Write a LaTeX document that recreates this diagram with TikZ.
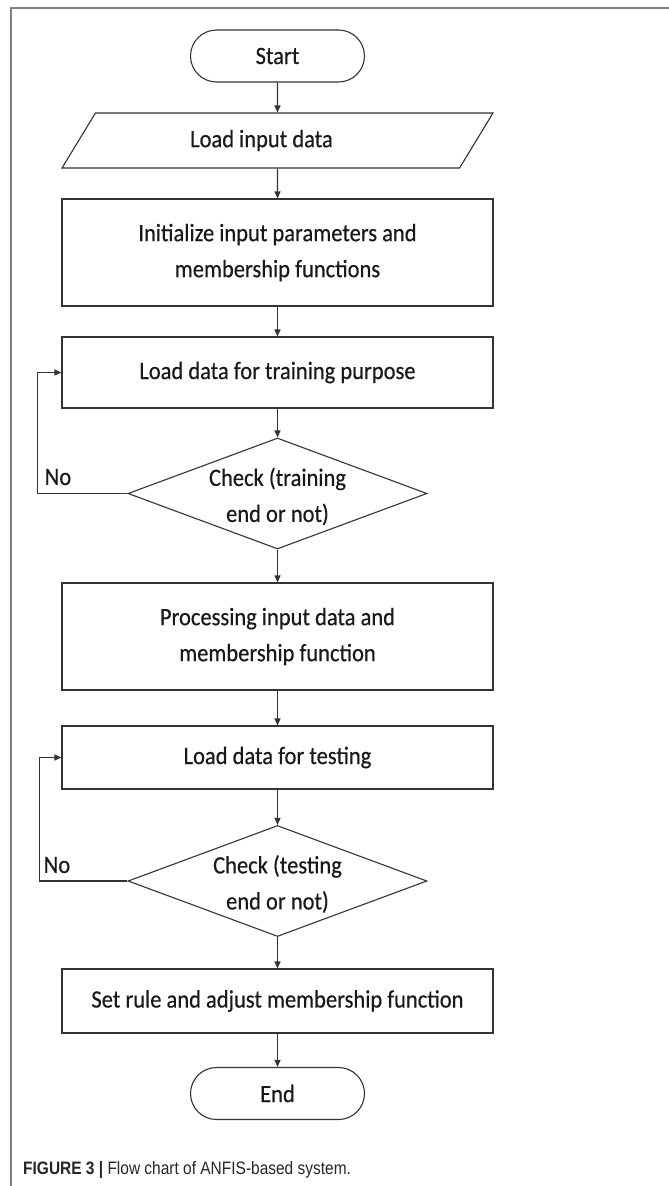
\documentclass[tikz,border=0pt]{standalone}
\usepackage{fontspec}
\setmainfont[FakeStretch=0.9,FakeBold=0.4]{Carlito}
\newfontfamily\capfont[FakeStretch=0.86]{Liberation Sans}
\usetikzlibrary{shapes.geometric,arrows.meta}
\begin{document}
\begin{tikzpicture}[x=1pt,y=-1pt,
  every node/.style={font=\fontsize{25}{36}\selectfont, text=black!90},
  ln/.style={draw=black!80, line width=1.1pt},
  arr/.style={ln, -{Triangle[length=7pt,width=6pt]}},
  term/.style={ln, rectangle, rounded corners=26pt, minimum width=174pt, minimum height=52pt, inner sep=0},
  proc/.style={ln, rectangle, minimum width=431pt, inner sep=0, align=center},
  dec/.style={ln, diamond, minimum width=299pt, minimum height=111pt, inner sep=0},
  io/.style={ln, trapezium, trapezium left angle=32.6, trapezium right angle=147.4, trapezium stretches body, minimum width=431pt, minimum height=55pt, inner sep=0},
  dtext/.style={align=center, yshift=-3pt}
]
\useasboundingbox (0,0) rectangle (669,1186);
\draw[draw=black!50, line width=1.2pt] (11,8) rectangle (700,1220);

\node[term] (start) at (277.5,56) {Start};
\node[io] (load) at (277.5,140.5) {\hspace*{-32pt}Load input data};
\node[proc, minimum height=107pt] (init) at (277.5,252.5) {Initialize input parameters and\\membership functions};
\node[proc, minimum height=71pt] (train) at (277.5,372.5) {Load data for training purpose};
\node[dec, label={[dtext]center:Check (training\\end or not)}] (chk1) at (277.5,493.5) {};
\node[proc, minimum height=107pt] (proc) at (277.5,636.5) {Processing input data and\\membership function};
\node[proc, minimum height=63pt] (test) at (277.5,757.5) {Load data for testing};
\node[dec, label={[dtext]center:Check (testing\\end or not)}] (chk2) at (277.5,881) {};
\node[proc, minimum height=64pt] (rule) at (277.5,1001) {Set rule and adjust membership function};
\node[term] (end) at (277.5,1093.5) {End};

\node (no1) at (58,477) {No};
\node (no2) at (57,865) {No};

\draw[arr] (start) -- (load);
\draw[arr] (load) -- (init);
\draw[arr] (init) -- (train);
\draw[arr] (train) -- (chk1);
\draw[arr] (chk1) -- (proc);
\draw[arr] (proc) -- (test);
\draw[arr] (test) -- (chk2);
\draw[arr] (chk2) -- (rule);
\draw[arr] (rule) -- (end);
\draw[arr] (chk1.west) -- ++(-90,0) |- (train.west);
\draw[arr] (chk2.west) -- ++(-88,0) |- (test.west);

\node[anchor=base west, font=\capfont\fontsize{18}{20}\selectfont, text=black!85, inner sep=0] (cap) at (23,1174) {\textbf{FIGURE 3 |} Flow chart of ANFIS-based system.};
\end{tikzpicture}
\end{document}
